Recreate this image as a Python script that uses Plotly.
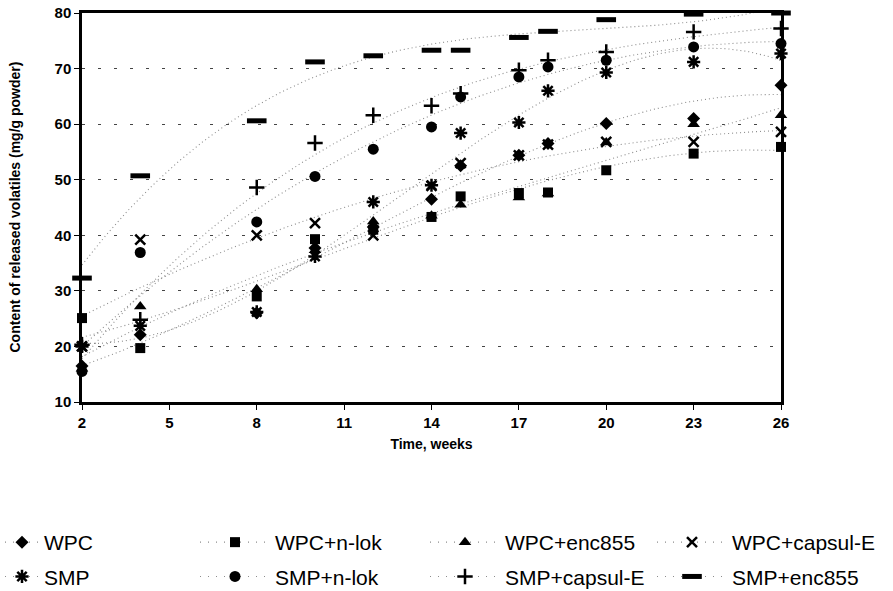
import numpy as np
import plotly.graph_objects as go

weeks = [2, 4, 8, 10, 12, 14, 15, 17, 18, 20, 23, 26]

wpc = [16.5, 22.1, 26.0, 37.7, 41.5, 46.5, 52.5, 54.4, 56.5, 60.1, 61.0, 67.0]
wpc_nlok = [25.1, 19.7, 29.0, 39.3, 41.0, 43.3, 47.0, 47.6, 47.7, 51.7, 54.7, 55.9]
wpc_enc855 = [16.0, 27.2, 30.3, 37.3, 42.5, 43.5, 45.5, 46.8, 47.5, 56.7, 60.0, 61.6]
wpc_capsule = [20.0, 39.2, 40.0, 42.2, 40.0, 48.9, 53.0, 54.4, 56.3, 56.8, 56.8, 58.6]
smp = [20.0, 23.7, 26.2, 36.2, 46.0, 49.0, 58.4, 60.3, 66.0, 69.3, 71.2, 72.7]
smp_nlok = [15.5, 36.9, 42.4, 50.6, 55.5, 59.5, 64.9, 68.5, 70.3, 71.5, 73.9, 74.5]
smp_capsule = [20.3, 24.8, 48.6, 56.6, 61.6, 63.3, 65.5, 69.7, 71.5, 73.0, 76.6, 77.2]
smp_enc855 = [32.3, 50.7, 60.6, 71.2, 72.3, 73.3, 73.3, 75.6, 76.7, 78.8, 79.8, 80.0]

x_ticks = [2, 5, 8, 11, 14, 17, 20, 23, 26]
y_ticks = [10, 20, 30, 40, 50, 60, 70, 80]

names = ["WPC", "WPC+n-lok", "WPC+enc855", "WPC+capsul-E",
         "SMP", "SMP+n-lok", "SMP+capsul-E", "SMP+enc855"]
values = [wpc, wpc_nlok, wpc_enc855, wpc_capsule, smp, smp_nlok, smp_capsule, smp_enc855]

sym = {
    "WPC": dict(symbol="diamond", size=10, color="black"),
    "WPC+n-lok": dict(symbol="square", size=10, color="black"),
    "WPC+enc855": dict(symbol="triangle-up", size=11, color="black"),
    "WPC+capsul-E": dict(symbol="x-thin-open", size=10, color="black", line=dict(width=2.5, color="black")),
    "SMP": dict(symbol="asterisk-open", size=11, color="black", line=dict(width=2.5, color="black")),
    "SMP+n-lok": dict(symbol="circle", size=11, color="black"),
    "SMP+capsul-E": dict(symbol="cross-thin-open", size=11, color="black", line=dict(width=2.5, color="black")),
    "SMP+enc855": dict(symbol="line-ew-open", size=14, color="black", line=dict(width=5, color="black")),
}

legend_of = {
    "WPC": "legend", "SMP": "legend",
    "WPC+n-lok": "legend2", "SMP+n-lok": "legend2",
    "WPC+enc855": "legend3", "SMP+capsul-E": "legend3",
    "WPC+capsul-E": "legend4", "SMP+enc855": "legend4",
}

fig = go.Figure()
xs = np.linspace(min(weeks), max(weeks), 200)
for name, vals in zip(names, values):
    coef = np.polyfit(weeks, vals, 3)
    fig.add_trace(go.Scatter(x=xs, y=np.polyval(coef, xs), mode="lines",
                             line=dict(color="#8c8c8c", width=1.1, dash="1px,3px"),
                             showlegend=False, hoverinfo="skip"))
for name, vals in zip(names, values):
    fig.add_trace(go.Scatter(x=weeks, y=vals, mode="markers", marker=sym[name],
                             showlegend=False, cliponaxis=False, name=name))
# legend entries
for name in names:
    fig.add_trace(go.Scatter(x=[None], y=[None], mode="lines+markers", name=name,
                             marker=sym[name],
                             line=dict(color="#8c8c8c", width=1.1, dash="1px,7px"),
                             legend=legend_of[name], legendgroup=name))

font_leg = dict(family="Liberation Sans, Arial", size=21, color="black")
top = 1 - 522 / 591
common = dict(xref="container", yref="container", yanchor="top", xanchor="left",
              font=font_leg, bgcolor="rgba(0,0,0,0)", tracegroupgap=4)
fig.update_layout(
    legend=dict(x=0.0, y=top, itemwidth=34, **common),
    legend2=dict(x=195 / 893, y=top, itemwidth=70, **common),
    legend3=dict(x=425 / 893, y=top, itemwidth=70, **common),
    legend4=dict(x=652 / 893, y=top, itemwidth=70, **common),
)

fig.update_layout(
    width=893, height=591,
    margin=dict(l=82, r=112, t=13, b=189, autoexpand=False),
    plot_bgcolor="white", paper_bgcolor="white",
    font=dict(family="Liberation Sans, Arial", color="black"),
    xaxis=dict(range=[2, 26], tickvals=x_ticks, ticktext=["<b>%d</b>" % t for t in x_ticks],
               showgrid=False, zeroline=False, showline=True, linecolor="black",
               linewidth=2.5, mirror=True, ticks="outside", ticklen=5, tickcolor="black",
               tickfont=dict(size=15, family="Liberation Sans, Arial"),
               title=dict(text="<b>Time, weeks</b>", font=dict(size=14), standoff=10)),
    yaxis=dict(range=[10, 80], tickvals=y_ticks,
               ticktext=["<b>%d</b>" % t for t in y_ticks],
               showgrid=True, gridcolor="#444444", griddash="3px,13px", gridwidth=1,
               zeroline=False, showline=True, linecolor="black", linewidth=2.5, mirror=True,
               ticks="outside", ticklen=5, tickcolor="black",
               tickfont=dict(size=15, family="Liberation Sans, Arial")),
    annotations=[dict(text="<b>Content of released volatiles (mg/g powder)</b>",
                      xref="paper", yref="paper", x=-68 / 699, y=0.5,
                      xanchor="center", yanchor="middle", textangle=-90,
                      showarrow=False, font=dict(size=14, family="Liberation Sans, Arial"))],
)
fig.write_html("out.html")
